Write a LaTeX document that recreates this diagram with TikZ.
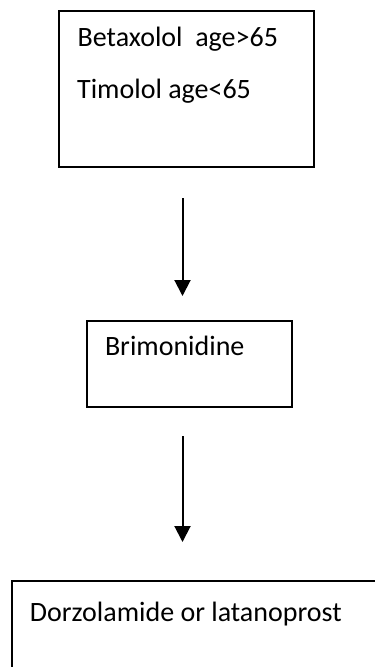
\documentclass[tikz,border=0pt]{standalone}
\usepackage{fontspec}
\setmainfont{Carlito}
\usetikzlibrary{arrows.meta}
\tikzset{
  boxframe/.style={draw=black, line width=2pt, inner sep=0pt},
  label text/.style={anchor=base west, inner sep=0pt, font=\fontsize{28}{32}\selectfont},
  flowarrow/.style={draw=black, line width=2pt, -{Triangle[width=16pt,length=16pt]}}
}
\begin{document}
\begin{tikzpicture}[x=1pt,y=-1pt]
\useasboundingbox (0,0) rectangle (375,667);
\clip (0,0) rectangle (375,667);
\fill[white] (0,0) rectangle (375,667);
% boxes
\node[boxframe, minimum width=255pt, minimum height=156pt] (box1) at (186,88.5) {};
\node[boxframe, minimum width=205.5pt, minimum height=86.5pt] (box2) at (189.4,364.2) {};
\node[boxframe, minimum width=400pt, minimum height=150pt] (box3) at (212,656) {};
% texts
\node[label text] (t1) at (77.5,46.7) {Betaxolol\ \ age>65};
\node[label text] (t2) at (77,98.3) {Timolol age<65};
\node[label text] (t3) at (104.8,355) {Brimonidine};
\node[label text] (t4) at (29.8,621.7) {Dorzolamide or latanoprost};
% arrows
\coordinate (a1s) at (182.5,198);
\coordinate (a1e) at (182.5,296);
\coordinate (a2s) at (182.5,436);
\coordinate (a2e) at (182.5,542);
\draw[flowarrow] (a1s) -- (a1e);
\draw[flowarrow] (a2s) -- (a2e);
\end{tikzpicture}
\end{document}
